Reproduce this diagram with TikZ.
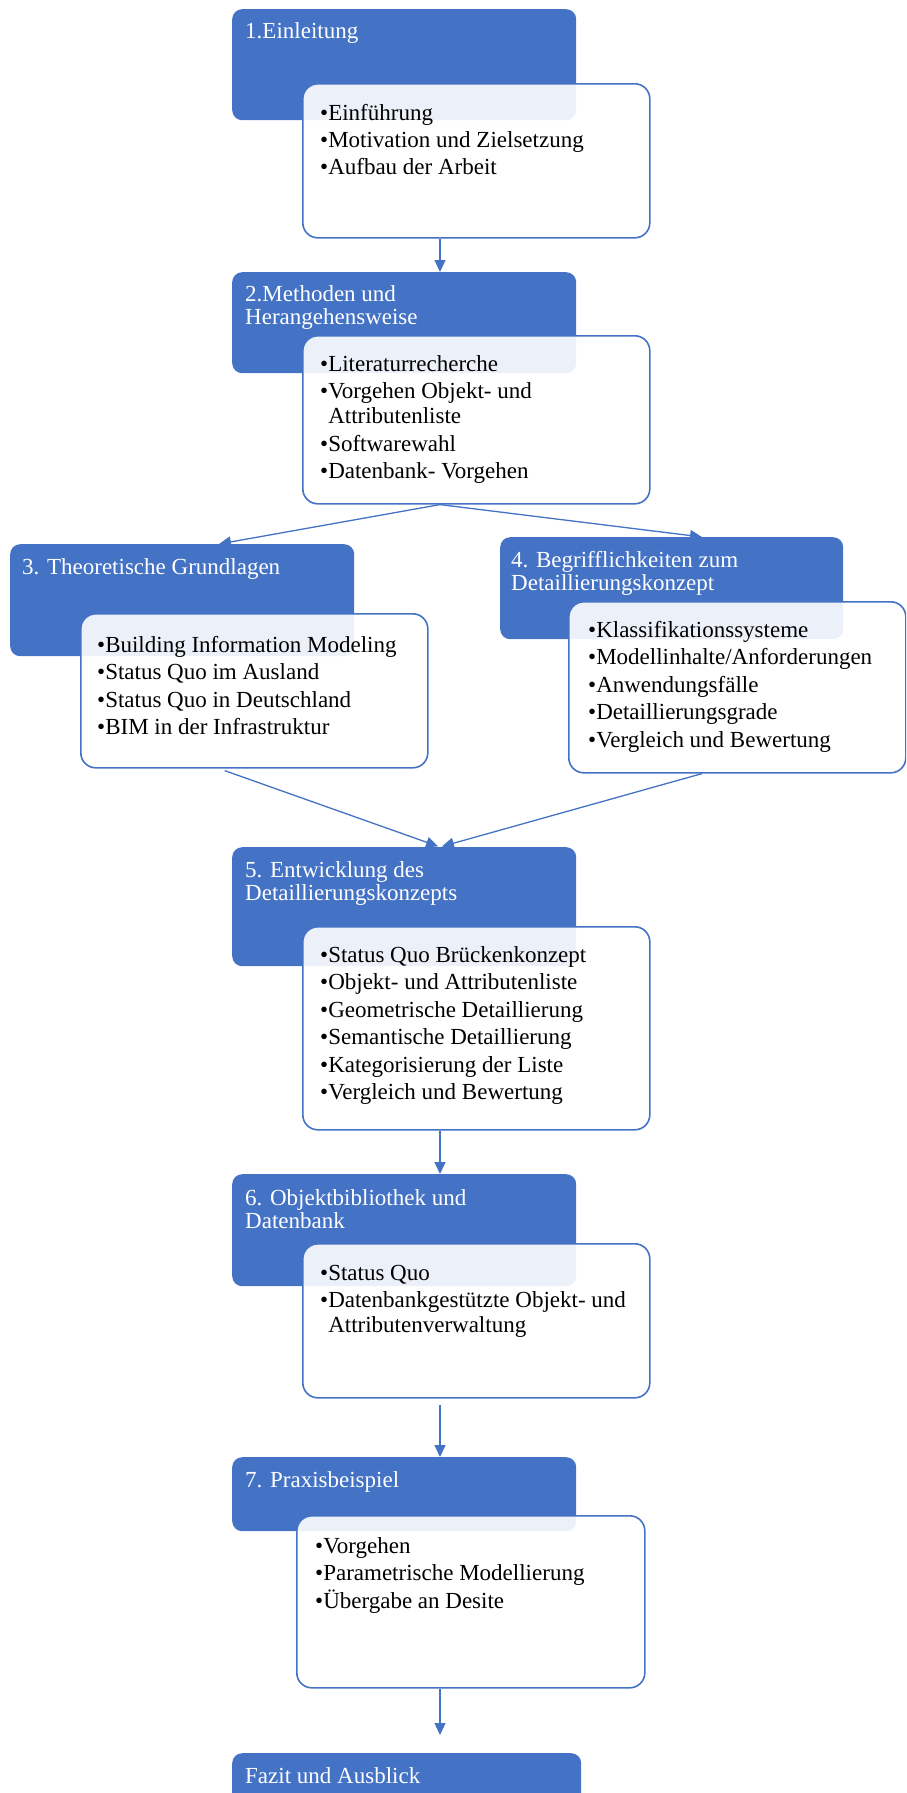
\documentclass[tikz,border=0pt]{standalone}
\usepackage{fontspec}
\setmainfont{Liberation Serif}
\usetikzlibrary{calc,arrows.meta}

\definecolor{wordblue}{HTML}{4472C4}

\tikzset{
  headbox/.style={fill=wordblue, draw=none, rounded corners=10pt, anchor=north west, inner sep=0pt},
  listbox/.style={fill=white, fill opacity=0.9, draw=wordblue, line width=1.6pt, rounded corners=15pt, anchor=north west, inner sep=0pt},
  headtext/.style={text=white, font=\fontsize{23}{23.5}\selectfont, anchor=base west, inner sep=0pt},
  listtext/.style={text=black, font=\fontsize{23}{27.5}\selectfont, anchor=base west, inner sep=0pt},
  flow/.style={draw=wordblue, line width=1.3pt, -{Triangle[length=12pt,width=11pt]}}
}

% bullet list with hanging indent, first baseline on top
\newcommand{\itemlist}[1]{\begin{tabular}[t]{@{}l@{}l@{}}#1\end{tabular}}

\begin{document}
\begin{tikzpicture}[x=1pt,y=-1pt]
  \useasboundingbox (0,0) rectangle (906,1793);
  \clip (0,0) rectangle (906,1793);

  % axis of the flow and the two side columns
  \coordinate (mid) at (440,0);
  \coordinate (lft) at (219,0);
  \coordinate (rgt) at (702,0);

  %-----------------------------
  % 1. Einleitung
  \node[headbox, minimum width=344pt, minimum height=111pt] (b1) at (232,9) {};
  \node[listbox, minimum width=347pt, minimum height=154pt] (w1) at (302,83) {};
  \node[headtext] (t1) at ($(b1.north west)+(13,30)$) {1.Einleitung};
  \node[listtext] (l1) at ($(w1.north west)+(18,37)$)
       {\itemlist{•&Einführung\\ •&Motivation und Zielsetzung\\ •&Aufbau der Arbeit}};

  %-----------------------------
  % 2. Methoden
  \node[headbox, minimum width=344pt, minimum height=101pt] (b2) at (232,272) {};
  \node[listbox, minimum width=347pt, minimum height=168pt] (w2) at (302,335) {};
  \node[headtext] (t2) at ($(b2.north west)+(13,29)$)
       {\itemlist{2.Methoden und\\ Herangehensweise}};
  \node[listtext] (l2) at ($(w2.north west)+(18,36)$)
       {\itemlist{•&Literaturrecherche\\ •&Vorgehen Objekt- und\\[-2.5pt] &Attributenliste\\ •&Softwarewahl\\ •&Datenbank- Vorgehen}};

  %-----------------------------
  % 3. Grundlagen (left)
  \node[headbox, minimum width=344pt, minimum height=112pt] (b3) at (10,544) {};
  \node[listbox, minimum width=347pt, minimum height=154pt] (w3) at (80,613) {};
  \node[headtext] (t3) at ($(b3.north west)+(12,30)$) {3. Theoretische Grundlagen};
  \node[listtext] (l3) at ($(w3.north west)+(17,39)$)
       {\itemlist{•&Building Information Modeling\\ •&Status Quo im Ausland\\ •&Status Quo in Deutschland\\ •&BIM in der Infrastruktur}};

  %-----------------------------
  % 4. Begriffe (right)
  \node[headbox, minimum width=343pt, minimum height=102pt] (b4) at (500,537) {};
  \node[listbox, minimum width=337pt, minimum height=171pt] (w4) at (568,601) {};
  \node[headtext] (t4) at ($(b4.north west)+(11,30)$)
       {\itemlist{4. Begrifflichkeiten zum\\ Detaillierungskonzept}};
  \node[listtext] (l4) at ($(w4.north west)+(20,36)$)
       {\itemlist{•&Klassifikationssysteme\\ •&Modellinhalte/Anforderungen\\ •&Anwendungsfälle\\ •&Detaillierungsgrade\\ •&Vergleich und Bewertung}};

  %-----------------------------
  % 5. Konzept
  \node[headbox, minimum width=344pt, minimum height=119pt] (b5) at (232,847) {};
  \node[listbox, minimum width=347pt, minimum height=203pt] (w5) at (302,926) {};
  \node[headtext] (t5) at ($(b5.north west)+(13,30)$)
       {\itemlist{5. Entwicklung des\\ Detaillierungskonzepts}};
  \node[listtext] (l5) at ($(w5.north west)+(18,36)$)
       {\itemlist{•&Status Quo Brückenkonzept\\ •&Objekt- und Attributenliste\\ •&Geometrische Detaillierung\\ •&Semantische Detaillierung\\ •&Kategorisierung der Liste\\ •&Vergleich und Bewertung}};

  %-----------------------------
  % 6. Bibliothek
  \node[headbox, minimum width=344pt, minimum height=112pt] (b6) at (232,1174) {};
  \node[listbox, minimum width=347pt, minimum height=154pt] (w6) at (302,1243) {};
  \node[headtext] (t6) at ($(b6.north west)+(13,31)$)
       {\itemlist{6. Objektbibliothek und\\ Datenbank}};
  \node[listtext] (l6) at ($(w6.north west)+(18,37)$)
       {\itemlist{•&Status Quo\\ •&Datenbankgestützte Objekt- und\\[-2.5pt] &Attributenverwaltung}};

  %-----------------------------
  % 7. Praxis
  \node[headbox, minimum width=344pt, minimum height=74pt] (b7) at (232,1457) {};
  \node[listbox, minimum width=348pt, minimum height=172pt] (w7) at (296,1515) {};
  \node[headtext] (t7) at ($(b7.north west)+(13,30)$) {7. Praxisbeispiel};
  \node[listtext] (l7) at ($(w7.north west)+(19,38)$)
       {\itemlist{•&Vorgehen\\ •&Parametrische Modellierung\\ •&Übergabe an Desite}};

  %-----------------------------
  % Fazit (runs off the page)
  \node[headbox, minimum width=349pt, minimum height=70pt] (b8) at (232,1753) {};
  \node[headtext] (t8) at ($(b8.north west)+(13,30)$) {Fazit und Ausblick};

  %-----------------------------
  % connectors
  \draw[flow] (w1.south -| mid) -- (b2.north -| mid);
  \draw[flow] (w2.south -| mid) -- (b3.north -| lft);
  \draw[flow] (w2.south -| mid) -- (b4.north -| rgt);
  \draw[flow, shorten <=6pt, shorten >=2pt] (w3.south -| lft) -- (b5.north -| mid);
  \draw[flow, shorten >=2pt] (w4.south -| rgt) -- (b5.north -| mid);
  \draw[flow] (w5.south -| mid) -- (b6.north -| mid);
  \draw[flow, shorten <=6pt] (w6.south -| mid) -- (b7.north -| mid);
  \draw[flow, shorten >=18pt] (w7.south -| mid) -- (b8.north -| mid);
\end{tikzpicture}
\end{document}
